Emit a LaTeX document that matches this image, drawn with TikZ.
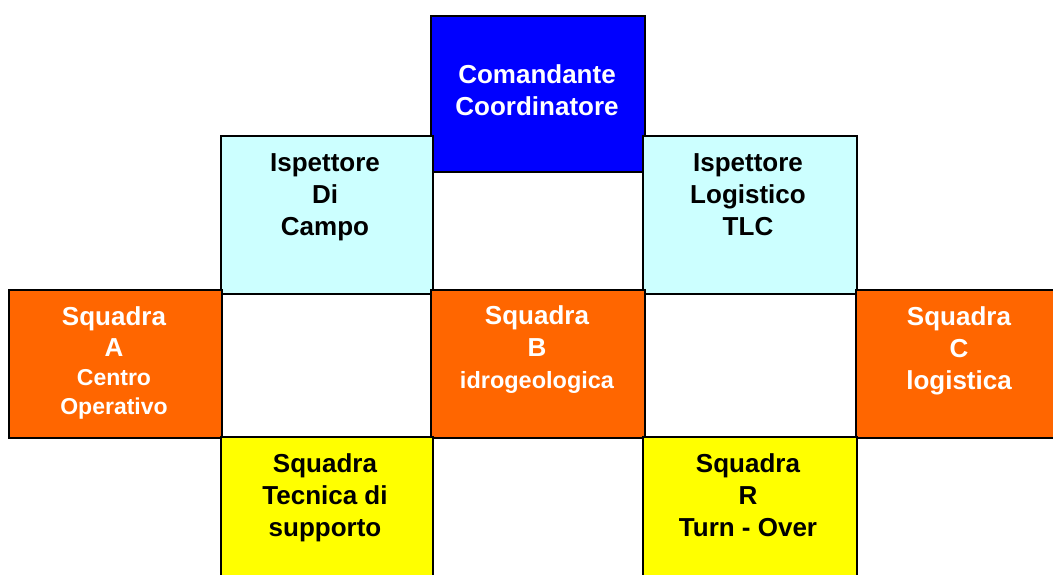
\documentclass[tikz,border=0pt]{standalone}
\usepackage{fontspec}
\setmainfont{Liberation Sans}
\definecolor{cblue}{RGB}{0,0,255}
\definecolor{ccyan}{RGB}{204,255,255}
\definecolor{corange}{RGB}{255,102,0}
\definecolor{cyellow}{RGB}{255,255,0}
\tikzset{
  orgbox/.style={draw=black, line width=1.8pt, inner sep=0pt, outer sep=0pt},
  lbl/.style={align=center, font=\fontsize{26}{32}\selectfont\bfseries, inner sep=0pt},
}
\newcommand{\mystrut}{\rule[-9.6pt]{0pt}{32pt}}
\newcommand{\smallf}{\fontsize{23}{29}\selectfont}
\begin{document}
\begin{tikzpicture}[x=1pt,y=-1pt]
\useasboundingbox (0,0) rectangle (1053,574);
\clip (0,0) rectangle (1053,574);
% boxes
\node[orgbox, fill=cblue, minimum width=214pt, minimum height=156pt] (cc) at (538,94) {};
\node[orgbox, fill=ccyan, minimum width=212pt, minimum height=158pt] (idc) at (327,215) {};
\node[orgbox, fill=ccyan, minimum width=214pt, minimum height=158pt] (il) at (750,215) {};
\node[orgbox, fill=corange, minimum width=213pt, minimum height=148pt] (sa) at (115.5,364) {};
\node[orgbox, fill=corange, minimum width=214pt, minimum height=148pt] (sb) at (538,364) {};
\node[orgbox, fill=corange, minimum width=214pt, minimum height=148pt] (sc) at (963,364) {};
\node[orgbox, fill=cyellow, minimum width=212pt, minimum height=158pt] (st) at (327,516) {};
\node[orgbox, fill=cyellow, minimum width=214pt, minimum height=158pt] (sr) at (750,516) {};
% labels
\node[lbl, text=white] (tcc) at (537,92.6) {\mystrut Comandante\\Coordinatore\mystrut};
\node[lbl] (tidc) at (325,196.6) {\mystrut Ispettore\\Di\\Campo\mystrut};
\node[lbl] (til) at (748,196.6) {\mystrut Ispettore\\Logistico\\TLC\mystrut};
\node[lbl, text=white] (tsa) at (114,364) {\mystrut Squadra\\[-1pt]A\\[-3pt]{\smallf Centro}\\[-3pt]{\smallf Operativo}\mystrut};
\node[lbl, text=white] (tsb) at (537,350) {\mystrut Squadra\\B\\{\fontsize{23.5}{32}\selectfont idrogeologica}\mystrut};
\node[lbl, text=white] (tsc) at (959,351) {\mystrut Squadra\\C\\logistica\mystrut};
\node[lbl] (tst) at (325,497.6) {\mystrut Squadra\\Tecnica di\\supporto\mystrut};
\node[lbl] (tsr) at (748,497.6) {\mystrut Squadra\\R\\Turn - Over\mystrut};
\end{tikzpicture}
\end{document}
